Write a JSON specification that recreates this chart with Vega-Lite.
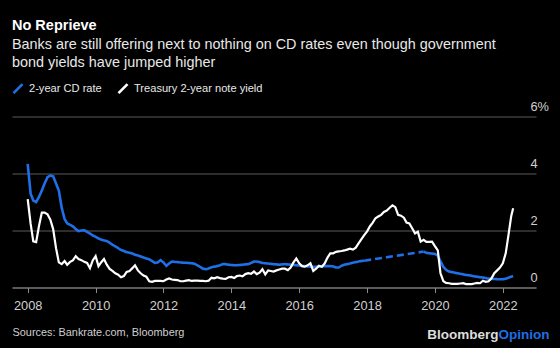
{
  "$schema": "https://vega.github.io/schema/vega-lite/v6.json",
  "width": 524,
  "height": 171,
  "autosize": {"type": "none"},
  "padding": {"left": 12, "top": 116.5, "right": 24, "bottom": 60.5},
  "background": "#000000",
  "config": {
    "view": {"stroke": null},
    "font": "Liberation Sans"
  },
  "title": {
    "text": "No Reprieve",
    "subtitle": ["Banks are still offering next to nothing on CD rates even though government", "bond yields have jumped higher"],
    "anchor": "start",
    "frame": "group",
    "fontSize": 14.5,
    "fontWeight": "bold",
    "color": "#ffffff",
    "subtitleFontSize": 14.4,
    "subtitleColor": "#e8e8e8",
    "subtitleLineHeight": 18.5,
    "subtitlePadding": 4,
    "offset": 12
  },
  "datasets": {
    "cd": [
      {"date":"2008-01","value":4.34,"seg":"a"},{"date":"2008-02","value":3.3,"seg":"a"},{"date":"2008-03","value":3.05,"seg":"a"},{"date":"2008-04","value":3.0,"seg":"a"},{"date":"2008-05","value":3.18,"seg":"a"},{"date":"2008-06","value":3.4,"seg":"a"},{"date":"2008-07","value":3.65,"seg":"a"},{"date":"2008-08","value":3.87,"seg":"a"},{"date":"2008-09","value":3.93,"seg":"a"},{"date":"2008-10","value":3.9,"seg":"a"},{"date":"2008-11","value":3.65,"seg":"a"},{"date":"2008-12","value":3.4,"seg":"a"},
      {"date":"2009-01","value":2.8,"seg":"a"},{"date":"2009-02","value":2.4,"seg":"a"},{"date":"2009-03","value":2.25,"seg":"a"},{"date":"2009-04","value":2.2,"seg":"a"},{"date":"2009-05","value":2.15,"seg":"a"},{"date":"2009-06","value":2.05,"seg":"a"},{"date":"2009-07","value":1.98,"seg":"a"},{"date":"2009-08","value":2.0,"seg":"a"},{"date":"2009-09","value":2.01,"seg":"a"},{"date":"2009-10","value":1.95,"seg":"a"},{"date":"2009-11","value":1.89,"seg":"a"},{"date":"2009-12","value":1.83,"seg":"a"},
      {"date":"2010-01","value":1.78,"seg":"a"},{"date":"2010-02","value":1.72,"seg":"a"},{"date":"2010-03","value":1.68,"seg":"a"},{"date":"2010-04","value":1.65,"seg":"a"},{"date":"2010-05","value":1.63,"seg":"a"},{"date":"2010-06","value":1.57,"seg":"a"},{"date":"2010-07","value":1.5,"seg":"a"},{"date":"2010-08","value":1.44,"seg":"a"},{"date":"2010-09","value":1.38,"seg":"a"},{"date":"2010-10","value":1.32,"seg":"a"},{"date":"2010-11","value":1.28,"seg":"a"},{"date":"2010-12","value":1.24,"seg":"a"},
      {"date":"2011-01","value":1.22,"seg":"a"},{"date":"2011-02","value":1.19,"seg":"a"},{"date":"2011-03","value":1.15,"seg":"a"},{"date":"2011-04","value":1.12,"seg":"a"},{"date":"2011-05","value":1.09,"seg":"a"},{"date":"2011-06","value":1.05,"seg":"a"},{"date":"2011-07","value":1.02,"seg":"a"},{"date":"2011-08","value":0.99,"seg":"a"},{"date":"2011-09","value":0.93,"seg":"a"},{"date":"2011-10","value":0.86,"seg":"a"},{"date":"2011-11","value":0.88,"seg":"a"},{"date":"2011-12","value":0.96,"seg":"a"},
      {"date":"2012-01","value":0.88,"seg":"a"},{"date":"2012-02","value":0.76,"seg":"a"},{"date":"2012-03","value":0.84,"seg":"a"},{"date":"2012-04","value":0.91,"seg":"a"},{"date":"2012-05","value":0.9,"seg":"a"},{"date":"2012-06","value":0.89,"seg":"a"},{"date":"2012-07","value":0.88,"seg":"a"},{"date":"2012-08","value":0.87,"seg":"a"},{"date":"2012-09","value":0.87,"seg":"a"},{"date":"2012-10","value":0.86,"seg":"a"},{"date":"2012-11","value":0.85,"seg":"a"},{"date":"2012-12","value":0.83,"seg":"a"},
      {"date":"2013-01","value":0.78,"seg":"a"},{"date":"2013-02","value":0.72,"seg":"a"},{"date":"2013-03","value":0.66,"seg":"a"},{"date":"2013-04","value":0.64,"seg":"a"},{"date":"2013-05","value":0.67,"seg":"a"},{"date":"2013-06","value":0.71,"seg":"a"},{"date":"2013-07","value":0.73,"seg":"a"},{"date":"2013-08","value":0.75,"seg":"a"},{"date":"2013-09","value":0.78,"seg":"a"},{"date":"2013-10","value":0.82,"seg":"a"},{"date":"2013-11","value":0.82,"seg":"a"},{"date":"2013-12","value":0.8,"seg":"a"},
      {"date":"2014-01","value":0.79,"seg":"a"},{"date":"2014-02","value":0.78,"seg":"a"},{"date":"2014-03","value":0.78,"seg":"a"},{"date":"2014-04","value":0.79,"seg":"a"},{"date":"2014-05","value":0.8,"seg":"a"},{"date":"2014-06","value":0.81,"seg":"a"},{"date":"2014-07","value":0.82,"seg":"a"},{"date":"2014-08","value":0.86,"seg":"a"},{"date":"2014-09","value":0.91,"seg":"a"},{"date":"2014-10","value":0.91,"seg":"a"},{"date":"2014-11","value":0.89,"seg":"a"},{"date":"2014-12","value":0.86,"seg":"a"},
      {"date":"2015-01","value":0.85,"seg":"a"},{"date":"2015-02","value":0.84,"seg":"a"},{"date":"2015-03","value":0.83,"seg":"a"},{"date":"2015-04","value":0.82,"seg":"a"},{"date":"2015-05","value":0.81,"seg":"a"},{"date":"2015-06","value":0.8,"seg":"a"},{"date":"2015-07","value":0.81,"seg":"a"},{"date":"2015-08","value":0.82,"seg":"a"},{"date":"2015-09","value":0.81,"seg":"a"},{"date":"2015-10","value":0.8,"seg":"a"},{"date":"2015-11","value":0.79,"seg":"a"},{"date":"2015-12","value":0.78,"seg":"a"},
      {"date":"2016-01","value":0.77,"seg":"a"},{"date":"2016-02","value":0.76,"seg":"a"},{"date":"2016-03","value":0.75,"seg":"a"},{"date":"2016-04","value":0.74,"seg":"a"},{"date":"2016-05","value":0.73,"seg":"a"},{"date":"2016-06","value":0.73,"seg":"a"},{"date":"2016-07","value":0.73,"seg":"a"},{"date":"2016-08","value":0.74,"seg":"a"},{"date":"2016-09","value":0.75,"seg":"a"},{"date":"2016-10","value":0.75,"seg":"a"},{"date":"2016-11","value":0.75,"seg":"a"},{"date":"2016-12","value":0.75,"seg":"a"},
      {"date":"2017-01","value":0.74,"seg":"a"},{"date":"2017-02","value":0.7,"seg":"a"},{"date":"2017-03","value":0.7,"seg":"a"},{"date":"2017-04","value":0.76,"seg":"a"},{"date":"2017-05","value":0.8,"seg":"a"},{"date":"2017-06","value":0.82,"seg":"a"},{"date":"2017-07","value":0.84,"seg":"a"},{"date":"2017-08","value":0.87,"seg":"a"},{"date":"2017-09","value":0.89,"seg":"a"},{"date":"2017-10","value":0.91,"seg":"a"},{"date":"2017-11","value":0.93,"seg":"a"},{"date":"2017-12","value":0.94,"seg":"a"},
      {"date":"2017-12","value":0.94,"seg":"b"},{"date":"2019-09","value":1.26,"seg":"b"},
      {"date":"2019-09","value":1.26,"seg":"c"},{"date":"2019-10","value":1.22,"seg":"c"},{"date":"2019-11","value":1.2,"seg":"c"},{"date":"2019-12","value":1.19,"seg":"c"},
      {"date":"2020-01","value":1.18,"seg":"c"},{"date":"2020-02","value":1.12,"seg":"c"},{"date":"2020-03","value":0.92,"seg":"c"},{"date":"2020-04","value":0.72,"seg":"c"},{"date":"2020-05","value":0.62,"seg":"c"},{"date":"2020-06","value":0.56,"seg":"c"},{"date":"2020-07","value":0.54,"seg":"c"},{"date":"2020-08","value":0.52,"seg":"c"},{"date":"2020-09","value":0.5,"seg":"c"},{"date":"2020-10","value":0.48,"seg":"c"},{"date":"2020-11","value":0.46,"seg":"c"},{"date":"2020-12","value":0.44,"seg":"c"},
      {"date":"2021-01","value":0.43,"seg":"c"},{"date":"2021-02","value":0.41,"seg":"c"},{"date":"2021-03","value":0.39,"seg":"c"},{"date":"2021-04","value":0.38,"seg":"c"},{"date":"2021-05","value":0.36,"seg":"c"},{"date":"2021-06","value":0.35,"seg":"c"},{"date":"2021-07","value":0.33,"seg":"c"},{"date":"2021-08","value":0.31,"seg":"c"},{"date":"2021-09","value":0.3,"seg":"c"},{"date":"2021-10","value":0.3,"seg":"c"},{"date":"2021-11","value":0.29,"seg":"c"},{"date":"2021-12","value":0.29,"seg":"c"},
      {"date":"2022-01","value":0.29,"seg":"c"},{"date":"2022-02","value":0.31,"seg":"c"},{"date":"2022-03","value":0.34,"seg":"c"},{"date":"2022-04","value":0.38,"seg":"c"},{"date":"2022-04-22","value":0.4,"seg":"c"}
    ],
    "treasury": [
      {"date":"2008-01","value":3.1},{"date":"2008-02","value":2.25},{"date":"2008-03","value":1.62},{"date":"2008-04","value":1.59},{"date":"2008-05","value":2.15},{"date":"2008-06","value":2.63},{"date":"2008-07","value":2.63},{"date":"2008-08","value":2.57},{"date":"2008-09","value":2.38},{"date":"2008-10","value":2.05},{"date":"2008-11","value":1.38},{"date":"2008-12","value":0.88},
      {"date":"2009-01","value":0.82},{"date":"2009-02","value":0.93},{"date":"2009-03","value":0.8},{"date":"2009-04","value":0.9},{"date":"2009-05","value":0.95},{"date":"2009-06","value":1.1},{"date":"2009-07","value":1.0},{"date":"2009-08","value":0.96},{"date":"2009-09","value":0.9},{"date":"2009-10","value":0.86},{"date":"2009-11","value":0.68},{"date":"2009-12","value":0.95},
      {"date":"2010-01","value":1.1},{"date":"2010-02","value":0.75},{"date":"2010-03","value":0.88},{"date":"2010-04","value":1.0},{"date":"2010-05","value":0.8},{"date":"2010-06","value":0.65},{"date":"2010-07","value":0.58},{"date":"2010-08","value":0.5},{"date":"2010-09","value":0.45},{"date":"2010-10","value":0.36},{"date":"2010-11","value":0.4},{"date":"2010-12","value":0.55},
      {"date":"2011-01","value":0.58},{"date":"2011-02","value":0.68},{"date":"2011-03","value":0.78},{"date":"2011-04","value":0.6},{"date":"2011-05","value":0.5},{"date":"2011-06","value":0.42},{"date":"2011-07","value":0.38},{"date":"2011-08","value":0.22},{"date":"2011-09","value":0.2},{"date":"2011-10","value":0.23},{"date":"2011-11","value":0.23},{"date":"2011-12","value":0.23},
      {"date":"2012-01","value":0.22},{"date":"2012-02","value":0.28},{"date":"2012-03","value":0.32},{"date":"2012-04","value":0.28},{"date":"2012-05","value":0.27},{"date":"2012-06","value":0.26},{"date":"2012-07","value":0.22},{"date":"2012-08","value":0.22},{"date":"2012-09","value":0.24},{"date":"2012-10","value":0.26},{"date":"2012-11","value":0.23},{"date":"2012-12","value":0.24},
      {"date":"2013-01","value":0.24},{"date":"2013-02","value":0.23},{"date":"2013-03","value":0.23},{"date":"2013-04","value":0.22},{"date":"2013-05","value":0.24},{"date":"2013-06","value":0.34},{"date":"2013-07","value":0.32},{"date":"2013-08","value":0.36},{"date":"2013-09","value":0.33},{"date":"2013-10","value":0.31},{"date":"2013-11","value":0.3},{"date":"2013-12","value":0.36},
      {"date":"2014-01","value":0.37},{"date":"2014-02","value":0.33},{"date":"2014-03","value":0.4},{"date":"2014-04","value":0.42},{"date":"2014-05","value":0.39},{"date":"2014-06","value":0.47},{"date":"2014-07","value":0.5},{"date":"2014-08","value":0.48},{"date":"2014-09","value":0.56},{"date":"2014-10","value":0.47},{"date":"2014-11","value":0.52},{"date":"2014-12","value":0.64},
      {"date":"2015-01","value":0.46},{"date":"2015-02","value":0.6},{"date":"2015-03","value":0.58},{"date":"2015-04","value":0.56},{"date":"2015-05","value":0.6},{"date":"2015-06","value":0.63},{"date":"2015-07","value":0.66},{"date":"2015-08","value":0.66},{"date":"2015-09","value":0.61},{"date":"2015-10","value":0.7},{"date":"2015-11","value":0.88},{"date":"2015-12","value":1.02},
      {"date":"2016-01","value":0.85},{"date":"2016-02","value":0.75},{"date":"2016-03","value":0.73},{"date":"2016-04","value":0.78},{"date":"2016-05","value":0.85},{"date":"2016-06","value":0.58},{"date":"2016-07","value":0.66},{"date":"2016-08","value":0.76},{"date":"2016-09","value":0.73},{"date":"2016-10","value":0.84},{"date":"2016-11","value":1.05},{"date":"2016-12","value":1.2},
      {"date":"2017-01","value":1.2},{"date":"2017-02","value":1.25},{"date":"2017-03","value":1.27},{"date":"2017-04","value":1.28},{"date":"2017-05","value":1.3},{"date":"2017-06","value":1.33},{"date":"2017-07","value":1.36},{"date":"2017-08","value":1.33},{"date":"2017-09","value":1.4},{"date":"2017-10","value":1.55},{"date":"2017-11","value":1.7},{"date":"2017-12","value":1.84},
      {"date":"2018-01","value":1.97},{"date":"2018-02","value":2.15},{"date":"2018-03","value":2.27},{"date":"2018-04","value":2.43},{"date":"2018-05","value":2.49},{"date":"2018-06","value":2.55},{"date":"2018-07","value":2.65},{"date":"2018-08","value":2.7},{"date":"2018-09","value":2.8},{"date":"2018-10","value":2.88},{"date":"2018-11","value":2.82},{"date":"2018-12","value":2.55},
      {"date":"2019-01","value":2.52},{"date":"2019-02","value":2.45},{"date":"2019-03","value":2.28},{"date":"2019-04","value":2.25},{"date":"2019-05","value":2.08},{"date":"2019-06","value":1.9},{"date":"2019-07","value":1.96},{"date":"2019-08","value":1.61},{"date":"2019-09","value":1.67},{"date":"2019-10","value":1.6},{"date":"2019-11","value":1.6},{"date":"2019-12","value":1.61},
      {"date":"2020-01","value":1.45},{"date":"2020-02","value":1.3},{"date":"2020-03","value":0.5},{"date":"2020-04","value":0.22},{"date":"2020-05","value":0.16},{"date":"2020-06","value":0.15},{"date":"2020-07","value":0.13},{"date":"2020-08","value":0.13},{"date":"2020-09","value":0.13},{"date":"2020-10","value":0.14},{"date":"2020-11","value":0.15},{"date":"2020-12","value":0.12},
      {"date":"2021-01","value":0.12},{"date":"2021-02","value":0.12},{"date":"2021-03","value":0.14},{"date":"2021-04","value":0.16},{"date":"2021-05","value":0.15},{"date":"2021-06","value":0.24},{"date":"2021-07","value":0.2},{"date":"2021-08","value":0.22},{"date":"2021-09","value":0.32},{"date":"2021-10","value":0.5},{"date":"2021-11","value":0.6},{"date":"2021-12","value":0.7},
      {"date":"2022-01","value":0.85},{"date":"2022-02","value":1.2},{"date":"2022-03","value":1.8},{"date":"2022-04","value":2.5},{"date":"2022-04-22","value":2.78}
    ]
  },
  "encoding": {
    "x": {
      "field": "date",
      "type": "temporal",
      "scale": {"domain": [{"year": 2007, "month": 7, "date": 16}, {"year": 2022, "month": 12, "date": 24}]},
      "axis": {
        "values": [{"year": 2008}, {"year": 2010}, {"year": 2012}, {"year": 2014}, {"year": 2016}, {"year": 2018}, {"year": 2020}, {"year": 2022}],
        "format": "%Y",
        "grid": false,
        "domainColor": "#8a8a8a",
        "domainWidth": 1,
        "tickColor": "#8a8a8a",
        "tickSize": 5,
        "labelFontSize": 12.8,
        "labelColor": "#d0d0d0",
        "labelPadding": 7,
        "title": "Sources: Bankrate.com, Bloomberg",
        "titleFontSize": 10.9,
        "titleFontWeight": "normal",
        "titleColor": "#cfcfcf",
        "titleAnchor": "start",
        "titleAlign": "left",
        "titleBaseline": "alphabetic",
        "titleX": 0,
        "titleY": 48
      }
    }
  },
  "layer": [
    {
      "data": {"name": "cd"},
      "mark": {"type": "line", "strokeWidth": 2.6, "clip": true},
      "encoding": {
        "y": {
          "field": "value",
          "type": "quantitative",
          "scale": {"domain": [0, 6], "nice": false},
          "axis": {
            "orient": "right",
            "values": [0, 2, 4, 6],
            "grid": true,
            "gridColor": "#5a5a5a",
            "gridWidth": 1,
            "domain": false,
            "ticks": false,
            "labelPadding": -6,
            "labelAlign": "left",
            "labelBaseline": "alphabetic",
            "labelOffset": -6,
            "labelFontSize": 12.8,
            "labelColor": "#d0d0d0",
            "labelExpr": "datum.value == 6 ? '6%' : datum.label",
            "title": "Bloomberg",
            "titleAngle": 0,
            "titleX": -38,
            "titleY": 222,
            "titleAlign": "right",
            "titleBaseline": "alphabetic",
            "titleFontSize": 13.5,
            "titleFontWeight": "bold",
            "titleColor": "#dddddd"
          }
        },
        "color": {
          "datum": "2-year CD rate",
          "scale": {"domain": ["2-year CD rate", "Treasury 2-year note yield"], "range": ["#1f6fe6", "#ffffff"]},
          "legend": {
            "orient": "none",
            "legendX": 0,
            "legendY": -34,
            "direction": "horizontal",
            "title": null,
            "symbolType": "M-1,1L1,-1",
            "symbolSize": 81,
            "symbolStrokeWidth": 2.6,
            "labelFontSize": 11.1,
            "labelColor": "#e8e8e8",
            "labelOffset": 5,
            "columnPadding": 11
          }
        },
        "detail": {"field": "seg"},
        "strokeDash": {
          "field": "seg",
          "scale": {"domain": ["a", "b", "c"], "range": [[1, 0], [7, 4], [1, 0]]},
          "legend": null
        }
      }
    },
    {
      "data": {"name": "treasury"},
      "mark": {"type": "line", "strokeWidth": 2.2, "clip": true},
      "encoding": {
        "y": {
          "field": "value",
          "type": "quantitative",
          "scale": {"domain": [0, 6], "nice": false},
          "axis": {
            "orient": "left",
            "grid": false,
            "domain": false,
            "ticks": false,
            "labels": false,
            "title": "Opinion",
            "titleAngle": 0,
            "titleX": 486,
            "titleY": 222,
            "titleAlign": "left",
            "titleBaseline": "alphabetic",
            "titleFontSize": 13.5,
            "titleFontWeight": "bold",
            "titleColor": "#1f6fe6"
          }
        },
        "color": {"datum": "Treasury 2-year note yield"}
      }
    }
  ],
  "resolve": {"axis": {"y": "independent"}}
}
